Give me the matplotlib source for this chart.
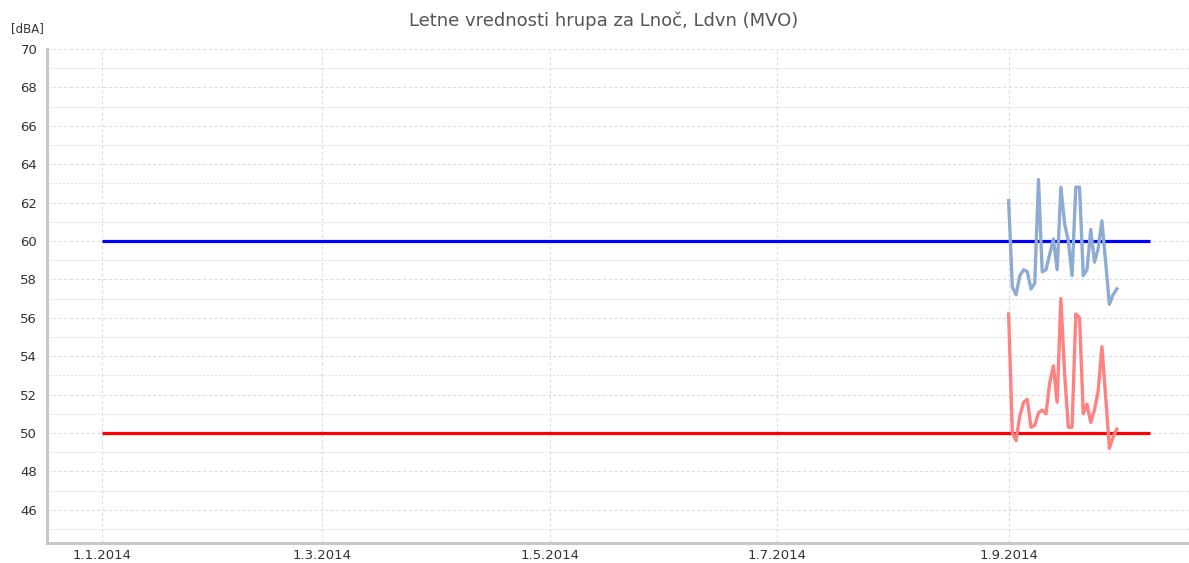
import datetime as dt
import numpy as np
import matplotlib
matplotlib.use('Agg')
import matplotlib.pyplot as plt
import matplotlib.dates as mdates
from matplotlib.ticker import FuncFormatter

# Daily values, September 2014
start_day = dt.datetime(2014, 9, 1)
ldvn = [62.1, 57.6, 57.2, 58.2, 58.5, 58.4, 57.5, 57.8, 63.2, 58.4,
        58.5, 59.3, 60.1, 58.5, 62.8, 60.9, 60.0, 58.2, 62.8, 62.8,
        58.2, 58.5, 60.6, 58.9, 59.6, 61.05, 58.9, 56.7, 57.2, 57.5]
lnoc = [56.2, 50.0, 49.6, 50.9, 51.6, 51.75, 50.3, 50.4, 51.05, 51.2,
        51.0, 52.6, 53.5, 51.6, 57.0, 53.1, 50.3, 50.3, 56.2, 56.0,
        51.0, 51.5, 50.55, 51.2, 52.2, 54.5, 51.9, 49.2, 49.8, 50.2]
days = [start_day + dt.timedelta(days=i) for i in range(len(ldvn))]

# limit values (MVO)
limit_dates = [dt.datetime(2014, 1, 1), dt.datetime(2014, 10, 9)]
limit_ldvn = 60
limit_lnoc = 50

tick_dates = [dt.datetime(2014, 1, 1), dt.datetime(2014, 3, 1), dt.datetime(2014, 5, 1),
              dt.datetime(2014, 7, 1), dt.datetime(2014, 9, 1)]
y_ticks = [46, 48, 50, 52, 54, 56, 58, 60, 62, 64, 66, 68, 70]

fig = plt.figure(figsize=(11.89, 5.63), dpi=100)
ax = fig.add_axes([47/1189, 20/563, 1 - 47/1189, (543 - 49)/563])

# grid: dashed on even values, finer dots on odd ones
for v in np.arange(45, 71, 1):
    if v % 2 == 0:
        ax.axhline(v, color='#dedede', lw=0.8, ls=(0, (3, 2)), zorder=0)
    else:
        ax.axhline(v, color='#e2e2e2', lw=0.8, ls=(0, (2, 1.5)), zorder=0)
for d in tick_dates:
    ax.axvline(d, color='#dedede', lw=0.8, ls=(0, (3, 2)), zorder=0)

ax.plot(limit_dates, [limit_ldvn]*2, color='#0000ff', lw=2.3, solid_capstyle='butt', zorder=2)
ax.plot(limit_dates, [limit_lnoc]*2, color='#ff0000', lw=2.3, solid_capstyle='butt', zorder=2)
ax.plot(days, ldvn, color='#8eabd2', lw=2.4, zorder=3)
ax.plot(days, lnoc, color='#ff8282', lw=2.4, zorder=3)

ax.set_xlim(dt.datetime(2013, 12, 17, 8), dt.datetime(2014, 10, 19, 8))
ax.set_ylim(70 - (543 - 49)/19.2, 70)
ax.set_xticks(tick_dates)
ax.xaxis.set_major_formatter(FuncFormatter(
    lambda x, p: '%d.%d.%d' % (mdates.num2date(x).day, mdates.num2date(x).month, mdates.num2date(x).year)))
ax.set_yticks(y_ticks)
ax.tick_params(length=0, labelsize=9.5, colors='#333333', pad=7)
ax.tick_params(axis='x', pad=4)

for s in ['top', 'right']:
    ax.spines[s].set_visible(False)
for s in ['left', 'bottom']:
    ax.spines[s].set_color('#c8c8c8')
    ax.spines[s].set_linewidth(2.2)

fig.text(604/1189, 1 - 21/563, 'Letne vrednosti hrupa za Lnoč, Ldvn (MVO)',
         ha='center', va='center', fontsize=13, color='#555555')
fig.text(11/1189, 1 - 29/563, '[dBA]', ha='left', va='center', fontsize=8.5, color='#333333')

plt.savefig('out.png', dpi=100)
